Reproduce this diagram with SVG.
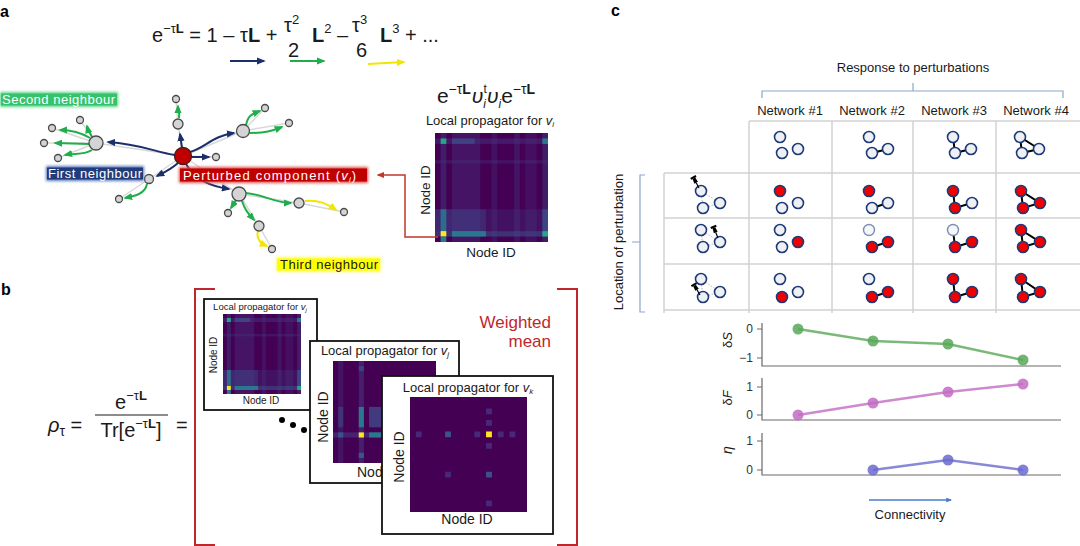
<svg xmlns="http://www.w3.org/2000/svg" width="1080" height="546" viewBox="0 0 1080 546">
<style>
text{font-family:"Liberation Sans",Arial,sans-serif;fill:#1a1a1a}
.pl{font-weight:bold;font-size:16px;fill:#000}
.fm{font-size:20px}
.b{font-weight:bold}
.i{font-style:italic}
.nav{stroke:#1b2f6b;stroke-width:2;fill:none;marker-end:url(#mN)}
.grn{stroke:#1fae4b;stroke-width:2;fill:none;marker-end:url(#mG)}
.yel{stroke:#f2e600;stroke-width:2;fill:none;marker-end:url(#mY)}
.ge{stroke:#d8d8d8;stroke-width:1.5;fill:none}
.gn{fill:#d4d4d4;stroke:#4a4a4a;stroke-width:1.3}
.grid{stroke:#d2d2d2;stroke-width:1.5;fill:none}
.brk{stroke:#8ea5c9;stroke-width:1.2;fill:none}
.c0{fill:#eef0f4;stroke:#1d3a78;stroke-width:1.6}
.c1{fill:#f00000;stroke:#1d3a78;stroke-width:1.6}
.cf{fill:#f6f7f9;stroke:#7e8db3;stroke-width:1.4}
.ed{stroke:#000;stroke-width:2;fill:none}
.dt{stroke:#b8b8b8;stroke-width:1;stroke-dasharray:1.5 1.5;fill:none}
.ax{stroke:#6a6a6a;stroke-width:1.2;fill:none}
.tk{font-size:12px;fill:#333;text-anchor:end}
.card{fill:#fff;stroke:#111;stroke-width:1.8}
.lbl{font-size:13px;fill:#fff}
.red{fill:#c0272d}
</style>
<defs>
<marker id="mN" viewBox="0 0 10 8" refX="8" refY="4" markerWidth="4.5" markerHeight="3.6" orient="auto"><path d="M0,0 L10,4 L0,8 Z" fill="#1b2f6b"/></marker>
<marker id="mG" viewBox="0 0 10 8" refX="8" refY="4" markerWidth="4.5" markerHeight="3.6" orient="auto"><path d="M0,0 L10,4 L0,8 Z" fill="#1fae4b"/></marker>
<marker id="mY" viewBox="0 0 10 8" refX="8" refY="4" markerWidth="4.5" markerHeight="3.6" orient="auto"><path d="M0,0 L10,4 L0,8 Z" fill="#f2e600"/></marker>
<marker id="mR" viewBox="0 0 10 8" refX="8" refY="4" markerWidth="5" markerHeight="4" orient="auto"><path d="M0,0 L10,4 L0,8 Z" fill="#c0392b"/></marker>
<marker id="mB" viewBox="0 0 10 8" refX="8" refY="4" markerWidth="4" markerHeight="3.2" orient="auto"><path d="M0,0 L10,4 L0,8 Z" fill="#4a7cc8"/></marker>
<filter id="blur" x="-20%" y="-50%" width="140%" height="200%"><feGaussianBlur stdDeviation="1.6"/></filter>
<g id="hmA">
<rect width="100" height="100" fill="#440154"/>
<rect x="5" width="5" height="100" fill="#3b528b" opacity=".35"/>
<rect x="15" width="25" height="100" fill="#472d7b" opacity=".45"/>
<rect x="50" width="5" height="100" fill="#46327e" opacity=".35"/>
<rect x="70" width="5" height="100" fill="#46327e" opacity=".4"/>
<rect x="80" width="10" height="100" fill="#46327e" opacity=".3"/>
<rect x="95" width="5" height="100" fill="#3b528b" opacity=".35"/>
<rect y="5" width="100" height="5" fill="#46327e" opacity=".5"/>
<rect y="25" width="100" height="3" fill="#46327e" opacity=".4"/>
<rect y="70" width="100" height="20" fill="#404387" opacity=".25"/>
<rect y="70" width="45" height="20" fill="#404387" opacity=".45"/>
<rect y="90" width="100" height="5" fill="#3b528b" opacity=".6"/>
<rect x="5" y="5" width="5" height="5" fill="#22a884"/>
<rect x="15" y="5" width="20" height="5" fill="#3e4a89" opacity=".8"/>
<rect x="95" y="5" width="5" height="5" fill="#2a788e"/>
<rect x="5" y="70" width="5" height="20" fill="#2a788e" opacity=".85"/>
<rect x="95" y="70" width="5" height="20" fill="#3b528b" opacity=".7"/>
<rect x="5" y="90" width="5" height="5" fill="#fde725"/>
<rect x="15" y="90" width="30" height="5" fill="#2a788e"/>
<rect x="95" y="90" width="5" height="5" fill="#22a884"/>
<rect x="5" y="95" width="5" height="5" fill="#2a788e"/>
</g>
<g id="pin"><line x1="0" y1="0" x2="0" y2="-6" stroke="#000" stroke-width="1.2"/><path d="M-2,-6 L2,-6 L1.5,-11 L-1.5,-11 Z" fill="#000"/><rect x="-3" y="-13" width="6" height="2" fill="#000"/></g>
</defs>
<rect width="1080" height="546" fill="#fff"/>

<!-- panel labels -->
<text class="pl" x="0" y="17">a</text>
<text class="pl" x="1" y="295">b</text>
<text class="pl" x="611" y="16">c</text>

<!-- ===== panel a formula ===== -->
<g id="formula-a">
<text class="fm" x="152" y="42">e<tspan font-size="13" dy="-9">−τ<tspan class="b">L</tspan></tspan><tspan dy="9"> = 1 – τ</tspan><tspan class="b">L</tspan> +</text>
<text class="fm" x="284" y="32">τ<tspan font-size="13" dy="-8">2</tspan></text>
<text class="fm" x="288" y="57">2</text>
<text class="fm" x="312" y="42"><tspan class="b">L</tspan><tspan font-size="13" dy="-9">2</tspan><tspan dy="9"> –</tspan></text>
<text class="fm" x="352" y="32">τ<tspan font-size="13" dy="-8">3</tspan></text>
<text class="fm" x="356" y="57">6</text>
<text class="fm" x="380" y="42"><tspan class="b">L</tspan><tspan font-size="13" dy="-9">3</tspan><tspan dy="9"> + ...</tspan></text>
</g>
<g id="formula-arrows">
<line x1="230" y1="61" x2="264" y2="61" stroke="#1b2f6b" stroke-width="2" marker-end="url(#mN)"/>
<line x1="290" y1="61" x2="324" y2="61" stroke="#1fae4b" stroke-width="2" marker-end="url(#mG)"/>
<line x1="368" y1="64" x2="404" y2="62" stroke="#f2e600" stroke-width="2" marker-end="url(#mY)"/>
</g>

<!-- ===== panel a graph ===== -->
<g id="graph-edges">
<path class="ge" d="M183,156 L96,143 M183,156 L178,124 M183,156 L243,131 M183,156 L216,157 M183,156 L149,179 M183,156 L239,194 M96,143 L52,128 M96,143 L80,120 M96,143 L44,143 M96,143 L58,158 M178,124 L176,99 M243,131 L265,108 M243,131 L289,123 M149,179 L119,199 M239,194 L228,213 M239,194 L299,203 M239,194 L259,226 M299,203 L344,212 M259,226 L272,249"/>
<path class="nav" d="M175,155 C155,152 140,144 108,142"/>
<path class="nav" d="M182,148 L180,134"/>
<path class="nav" d="M190,152 C205,148 212,136 234,133"/>
<path class="nav" d="M191,157 L209,157"/>
<path class="nav" d="M178,163 C170,170 165,172 157,176"/>
<path class="nav" d="M186,164 C195,180 210,186 229,189"/>
<path class="grn" d="M90,138 C80,132 72,130 60,130"/>
<path class="grn" d="M92,137 C90,132 88,130 87,126"/>
<path class="grn" d="M89,144 L55,143"/>
<path class="grn" d="M92,150 C85,155 75,153 65,155"/>
<path class="grn" d="M179,118 C180,112 178,110 178,106"/>
<path class="grn" d="M246,125 C248,115 252,114 260,111"/>
<path class="grn" d="M250,133 C265,133 272,131 282,127"/>
<path class="grn" d="M147,184 C145,194 135,196 125,198"/>
<path class="grn" d="M236,200 L231,208"/>
<path class="grn" d="M246,193 C265,195 275,203 291,203"/>
<path class="grn" d="M242,201 C245,210 248,213 254,220"/>
<path class="yel" d="M305,201 C320,200 328,204 336,210"/>
<path class="yel" d="M258,231 C256,238 260,243 267,246"/>
</g>
<g id="graph-nodes">
<g id="n-center"><circle cx="183" cy="156" r="8.5" fill="#c00000" stroke="#4a1a1a" stroke-width="1.3"/></g>
<g id="n1"><circle class="gn" cx="96" cy="143" r="7"/></g>
<g id="n2"><circle class="gn" cx="178" cy="124" r="5"/></g>
<g id="n3"><circle class="gn" cx="243" cy="131" r="6.5"/></g>
<g id="n4"><circle class="gn" cx="216" cy="157" r="3.5"/></g>
<g id="n5"><circle class="gn" cx="149" cy="179" r="4.5"/></g>
<g id="n6"><circle class="gn" cx="239" cy="194" r="7"/></g>
<g id="n7"><circle class="gn" cx="52" cy="128" r="3.5"/></g>
<g id="n8"><circle class="gn" cx="80" cy="120" r="3.5"/></g>
<g id="n9"><circle class="gn" cx="44" cy="143" r="3.5"/></g>
<g id="n10"><circle class="gn" cx="58" cy="158" r="3.5"/></g>
<g id="n11"><circle class="gn" cx="176" cy="99" r="3.5"/></g>
<g id="n12"><circle class="gn" cx="265" cy="108" r="3.5"/></g>
<g id="n13"><circle class="gn" cx="289" cy="123" r="3.5"/></g>
<g id="n14"><circle class="gn" cx="119" cy="199" r="3.5"/></g>
<g id="n15"><circle class="gn" cx="228" cy="213" r="3.5"/></g>
<g id="n16"><circle class="gn" cx="299" cy="203" r="5"/></g>
<g id="n17"><circle class="gn" cx="259" cy="226" r="5"/></g>
<g id="n18"><circle class="gn" cx="344" cy="212" r="3.5"/></g>
<g id="n19"><circle class="gn" cx="272" cy="249" r="3.5"/></g>
</g>
<g id="lbl-second">
<rect x="0" y="92" width="118" height="15" fill="#5ad88a" filter="url(#blur)"/>
<rect x="1" y="93.5" width="116" height="12" fill="#36c26c"/>
<text class="lbl" x="2" y="104" textLength="113">Second neighbour</text>
</g>
<g id="lbl-first">
<rect x="46" y="166" width="98" height="15" fill="#5a78b8" filter="url(#blur)"/>
<rect x="47" y="167.5" width="96" height="12" fill="#1f3c7c"/>
<text class="lbl" x="48" y="178" textLength="94">First neighbour</text>
</g>
<g id="lbl-perturbed">
<rect x="179" y="167" width="189" height="16" fill="#e05050" filter="url(#blur)"/>
<rect x="180" y="168.5" width="187" height="13" fill="#c00000"/>
<text class="lbl" x="183" y="179.5" font-size="13.5" letter-spacing="1.2">Perturbed component (<tspan class="i">v</tspan><tspan class="i" font-size="8" dy="2">i</tspan><tspan dy="-2">)</tspan></text>
</g>
<g id="lbl-third">
<rect x="276" y="257" width="105" height="15" fill="#ffff66" filter="url(#blur)"/>
<rect x="277" y="258.5" width="103" height="12" fill="#ffff00"/>
<text x="280" y="269" font-size="13" fill="#111" textLength="98">Third neighbour</text>
</g>

<!-- ===== panel a heatmap ===== -->
<g id="heatmap-a">
<text x="486" y="103" font-size="21" text-anchor="middle">e<tspan font-size="14" dy="-9">−τ<tspan class="b">L</tspan></tspan><tspan class="i" dy="9" dx="1">υ</tspan><tspan font-size="12" dy="-10">t</tspan><tspan font-size="12" class="i" dx="-3.5" dy="15">i</tspan><tspan class="i" dy="-5" dx="1">υ</tspan><tspan font-size="12" class="i" dy="5">i</tspan><tspan dy="-5">e</tspan><tspan font-size="14" dy="-9">−τ<tspan class="b">L</tspan></tspan></text>
<text x="490" y="125" font-size="13" text-anchor="middle">Local propagator for <tspan class="i">v</tspan><tspan class="i" font-size="8" dy="2">i</tspan></text>
<use href="#hmA" transform="translate(435,133) scale(1.13,1.09)"/>
<text x="491" y="257" font-size="13.5" text-anchor="middle">Node ID</text>
<text transform="translate(430,190) rotate(-90)" font-size="13.5" text-anchor="middle">Node ID</text>
</g>
<g id="connector-a">
<path d="M438,237 L405,237 L405,175 L378,175" fill="none" stroke="#c0392b" stroke-width="1.5" marker-end="url(#mR)"/>
</g>

<!-- ===== panel b ===== -->
<g id="formula-b">
<text class="fm" x="48" y="432"><tspan class="i">ρ</tspan><tspan font-size="14" dy="4">τ</tspan><tspan dy="-4"> =</tspan></text>
<text class="fm" x="131" y="409" text-anchor="middle">e<tspan font-size="13" dy="-9">−τ<tspan class="b">L</tspan></tspan></text>
<line x1="95" y1="415" x2="168" y2="415" stroke="#1a1a1a" stroke-width="1.2"/>
<text class="fm" x="131" y="437" text-anchor="middle">Tr[e<tspan font-size="13" dy="-9">−τ<tspan class="b">L</tspan></tspan><tspan dy="9">]</tspan></text>
<text class="fm" x="176" y="432">=</text>
</g>
<g id="bracket" fill="none" stroke="#c0272d" stroke-width="2">
<path d="M215,289 L195,289 L195,545 L215,545"/>
<path d="M557,289 L577,289 L577,545 L557,545"/>
</g>
<text class="red" x="551" y="328" font-size="17" text-anchor="end">Weighted</text>
<text class="red" x="551" y="347" font-size="17" text-anchor="end">mean</text>
<g id="dots" fill="#000">
<circle cx="282" cy="420" r="3"/><circle cx="293" cy="425" r="3"/><circle cx="304" cy="430" r="3"/>
</g>
<g id="card1">
<rect class="card" x="204" y="299" width="113" height="111"/>
<text x="260" y="310" font-size="9.5" text-anchor="middle">Local propagator for <tspan class="i">v</tspan><tspan class="i" font-size="6" dy="2">j</tspan></text>
<use href="#hmA" transform="translate(223,314) scale(0.78,0.80)"/>
<text x="261" y="404" font-size="10" text-anchor="middle">Node ID</text>
<text transform="translate(217,355) rotate(-90)" font-size="10" text-anchor="middle">Node ID</text>
</g>
<g id="card2">
<rect class="card" x="310" y="341" width="149" height="142"/>
<text x="385" y="355" font-size="13" text-anchor="middle">Local propagator for <tspan class="i">v</tspan><tspan class="i" font-size="8" dy="2">j</tspan></text>
<g transform="translate(333,361) scale(1.03,1.02)">
<rect width="100" height="100" fill="#440154"/>
<rect x="25" width="5" height="100" fill="#46327e" opacity=".6"/>
<rect x="5" width="5" height="100" fill="#46327e" opacity=".4"/>
<rect x="35" y="45" width="20" height="20" fill="#414487" opacity=".85"/>
<rect x="25" y="45" width="5" height="20" fill="#2a788e"/>
<rect x="0" y="70" width="100" height="5" fill="#46327e" opacity=".7"/>
<rect x="25" y="70" width="5" height="5" fill="#fde725"/>
<rect x="35" y="70" width="20" height="5" fill="#2a788e"/>
<rect x="5" y="70" width="5" height="5" fill="#3b528b"/>
<rect x="25" y="5" width="5" height="5" fill="#3b528b" opacity=".7"/>
<rect x="25" y="90" width="5" height="5" fill="#2a788e" opacity=".7"/>
<rect x="5" y="45" width="5" height="20" fill="#3b528b" opacity=".5"/>
</g>
<text x="357" y="477" font-size="14">Node ID</text>
<text transform="translate(328,417) rotate(-90)" font-size="14" text-anchor="middle">Node ID</text>
</g>
<g id="card3">
<rect class="card" x="382" y="376" width="171" height="158"/>
<text x="468" y="392" font-size="13" text-anchor="middle">Local propagator for <tspan class="i">v</tspan><tspan class="i" font-size="8" dy="2">k</tspan></text>
<g transform="translate(410,397) scale(1.17,1.15)">
<rect width="100" height="100" fill="#440154"/>
<rect x="65" y="30" width="5" height="5" fill="#fde725"/>
<rect x="30" y="30" width="5" height="5" fill="#3b528b"/>
<rect x="5" y="30" width="5" height="5" fill="#482878"/>
<rect x="55" y="30" width="5" height="5" fill="#482878"/>
<rect x="75" y="30" width="5" height="5" fill="#482878"/>
<rect x="85" y="30" width="5" height="5" fill="#482878"/>
<rect x="65" y="10" width="5" height="5" fill="#482878"/>
<rect x="65" y="20" width="5" height="5" fill="#482878"/>
<rect x="65" y="40" width="5" height="5" fill="#482878"/>
<rect x="65" y="65" width="5" height="5" fill="#3b528b"/>
<rect x="30" y="65" width="5" height="5" fill="#482878"/>
<rect x="65" y="90" width="5" height="5" fill="#482878"/>
</g>
<text x="467" y="524" font-size="14" text-anchor="middle">Node ID</text>
<text transform="translate(404,457) rotate(-90)" font-size="14" text-anchor="middle">Node ID</text>
</g>

<!-- ===== panel c ===== -->
<g id="c-headers">
<text x="913" y="72" font-size="13" text-anchor="middle">Response to perturbations</text>
<path class="brk" d="M762,98 L762,91 L1063,91 L1063,98 M913,91 L913,83"/>
<text x="790" y="115" font-size="13" text-anchor="middle">Network #1</text>
<text x="872" y="115" font-size="13" text-anchor="middle">Network #2</text>
<text x="954" y="115" font-size="13" text-anchor="middle">Network #3</text>
<text x="1036" y="115" font-size="13" text-anchor="middle">Network #4</text>
<text transform="translate(623,242) rotate(-90)" font-size="13" text-anchor="middle">Location of perturbation</text>
<path class="brk" d="M645,175 L640,175 L640,312 L645,312 M640,242 L632,242"/>
</g>
<g id="c-grid">
<path class="grid" d="M749,121 L1080,121 M664,173 L1080,173 M664,218 L1080,218 M664,264 L1080,264 M664,310 L1080,310 M749,121 L749,313 M832,121 L832,313 M913,121 L913,313 M996,121 L996,313 M664,173 L664,313"/>
</g>
<!-- header row networks -->
<g id="net1"><circle class="c0" cx="780" cy="137" r="5.5"/><circle class="c0" cx="782" cy="153" r="5.5"/><circle class="c0" cx="798" cy="149" r="5.5"/></g>
<g id="net2"><line class="ed" x1="872" y1="153" x2="888" y2="149"/><circle class="c0" cx="869" cy="137" r="5.5"/><circle class="c0" cx="872" cy="153" r="5.5"/><circle class="c0" cx="888" cy="149" r="5.5"/></g>
<g id="net3"><path class="ed" d="M953,137 L955,153 L971,149"/><circle class="c0" cx="953" cy="137" r="5.5"/><circle class="c0" cx="955" cy="153" r="5.5"/><circle class="c0" cx="971" cy="149" r="5.5"/></g>
<g id="net4"><path class="ed" d="M1020,137 L1022,153 L1039,149 Z"/><circle class="c0" cx="1020" cy="137" r="5.5"/><circle class="c0" cx="1022" cy="153" r="5.5"/><circle class="c0" cx="1039" cy="149" r="5.5"/></g>
<!-- row headers -->
<g id="loc1"><path class="dt" d="M701,191 L720,203 M701,191 L703,208 M703,208 L720,203"/><circle class="c0" cx="701" cy="191" r="5.5"/><circle class="c0" cx="703" cy="208" r="5.5"/><circle class="c0" cx="720" cy="203" r="5.5"/><use href="#pin" transform="translate(699,188) rotate(-28)"/></g>
<g id="loc2"><path class="dt" d="M701,230 L720,242 M701,230 L703,247 M703,247 L720,242"/><circle class="c0" cx="701" cy="230" r="5.5"/><circle class="c0" cx="703" cy="247" r="5.5"/><circle class="c0" cx="720" cy="242" r="5.5"/><use href="#pin" transform="translate(718,238) rotate(-22)"/></g>
<g id="loc3"><path class="dt" d="M701,279 L720,292 M701,279 L703,297 M703,297 L720,292"/><circle class="c0" cx="701" cy="279" r="5.5"/><circle class="c0" cx="703" cy="297" r="5.5"/><circle class="c0" cx="720" cy="292" r="5.5"/><use href="#pin" transform="translate(700,295) rotate(-30)"/></g>
<!-- row 1 -->
<g id="r1c1"><circle class="c1" cx="780" cy="191" r="5.5"/><circle class="c0" cx="782" cy="208" r="5.5"/><circle class="c0" cx="798" cy="203" r="5.5"/></g>
<g id="r1c2"><line class="ed" x1="872" y1="208" x2="888" y2="203"/><circle class="c1" cx="869" cy="191" r="5.5"/><circle class="c0" cx="872" cy="208" r="5.5"/><circle class="c0" cx="888" cy="203" r="5.5"/></g>
<g id="r1c3"><path class="ed" d="M953,191 L955,208 L972,203"/><circle class="c1" cx="953" cy="191" r="5.5"/><circle class="c1" cx="955" cy="208" r="5.5"/><circle class="c0" cx="972" cy="203" r="5.5"/></g>
<g id="r1c4"><path class="ed" d="M1021,191 L1023,208 L1040,203 Z"/><circle class="c1" cx="1021" cy="191" r="5.5"/><circle class="c1" cx="1023" cy="208" r="5.5"/><circle class="c1" cx="1040" cy="203" r="5.5"/></g>
<!-- row 2 -->
<g id="r2c1"><circle class="c0" cx="780" cy="230" r="5.5"/><circle class="c0" cx="782" cy="247" r="5.5"/><circle class="c1" cx="798" cy="242" r="5.5"/></g>
<g id="r2c2"><line class="ed" x1="872" y1="247" x2="888" y2="242"/><circle class="cf" cx="869" cy="230" r="5.5"/><circle class="c1" cx="872" cy="247" r="5.5"/><circle class="c1" cx="888" cy="242" r="5.5"/></g>
<g id="r2c3"><path class="ed" d="M953,230 L955,247 L972,242"/><circle class="cf" cx="953" cy="230" r="5.5"/><circle class="c1" cx="955" cy="247" r="5.5"/><circle class="c1" cx="972" cy="242" r="5.5"/></g>
<g id="r2c4"><path class="ed" d="M1021,230 L1023,247 L1040,242 Z"/><circle class="c1" cx="1021" cy="230" r="5.5"/><circle class="c1" cx="1023" cy="247" r="5.5"/><circle class="c1" cx="1040" cy="242" r="5.5"/></g>
<!-- row 3 -->
<g id="r3c1"><circle class="c0" cx="780" cy="279" r="5.5"/><circle class="c1" cx="782" cy="297" r="5.5"/><circle class="c0" cx="798" cy="292" r="5.5"/></g>
<g id="r3c2"><line class="ed" x1="872" y1="297" x2="888" y2="292"/><circle class="c0" cx="869" cy="279" r="5.5"/><circle class="c1" cx="872" cy="297" r="5.5"/><circle class="c1" cx="888" cy="292" r="5.5"/></g>
<g id="r3c3"><path class="ed" d="M953,279 L955,297 L972,292"/><circle class="c1" cx="953" cy="279" r="5.5"/><circle class="c1" cx="955" cy="297" r="5.5"/><circle class="c1" cx="972" cy="292" r="5.5"/></g>
<g id="r3c4"><path class="ed" d="M1021,279 L1023,297 L1040,292 Z"/><circle class="c1" cx="1021" cy="279" r="5.5"/><circle class="c1" cx="1023" cy="297" r="5.5"/><circle class="c1" cx="1040" cy="292" r="5.5"/></g>

<!-- plots -->
<g id="plot-dS">
<path class="ax" d="M762,323 L762,366 L1061,366 M757,329 L762,329 M757,358 L762,358"/>
<text class="tk" x="753" y="333">0</text>
<text class="tk" x="753" y="362">−1</text>
<text transform="translate(732,340) rotate(-90)" font-size="13" text-anchor="middle">δ<tspan class="i">S</tspan></text>
<polyline points="798,329 873,341 948,344 1023,360" fill="none" stroke="#5aa75a" stroke-width="2.5" opacity=".8"/>
<g fill="#5aa75a" opacity=".85"><circle cx="798" cy="329" r="5.5"/><circle cx="873" cy="341" r="5.5"/><circle cx="948" cy="344" r="5.5"/><circle cx="1023" cy="360" r="5.5"/></g>
</g>
<g id="plot-dF">
<path class="ax" d="M762,378 L762,420 L1061,420 M757,387 L762,387 M757,415 L762,415"/>
<text class="tk" x="753" y="391">1</text>
<text class="tk" x="753" y="419">0</text>
<text transform="translate(732,398) rotate(-90)" font-size="13" text-anchor="middle">δ<tspan class="i">F</tspan></text>
<polyline points="798,415 873,403 948,392 1023,384" fill="none" stroke="#c36cc3" stroke-width="2.5" opacity=".8"/>
<g fill="#c36cc3" opacity=".85"><circle cx="798" cy="415" r="5.5"/><circle cx="873" cy="403" r="5.5"/><circle cx="948" cy="392" r="5.5"/><circle cx="1023" cy="384" r="5.5"/></g>
</g>
<g id="plot-eta">
<path class="ax" d="M762,433 L762,475 L1061,475 M757,441 L762,441 M757,470 L762,470"/>
<text class="tk" x="753" y="445">1</text>
<text class="tk" x="753" y="474">0</text>
<text transform="translate(732,450) rotate(-90)" font-size="14" text-anchor="middle" class="i">η</text>
<polyline points="873,470 948,460 1023,470" fill="none" stroke="#6a6ad0" stroke-width="2.5" opacity=".8"/>
<g fill="#6a6ad0" opacity=".85"><circle cx="873" cy="470" r="5.5"/><circle cx="948" cy="460" r="5.5"/><circle cx="1023" cy="470" r="5.5"/></g>
</g>
<g id="connectivity">
<line x1="869" y1="500" x2="951" y2="500" stroke="#4a7cc8" stroke-width="1.5" marker-end="url(#mB)"/>
<text x="910" y="519" font-size="13" text-anchor="middle">Connectivity</text>
</g>
</svg>
